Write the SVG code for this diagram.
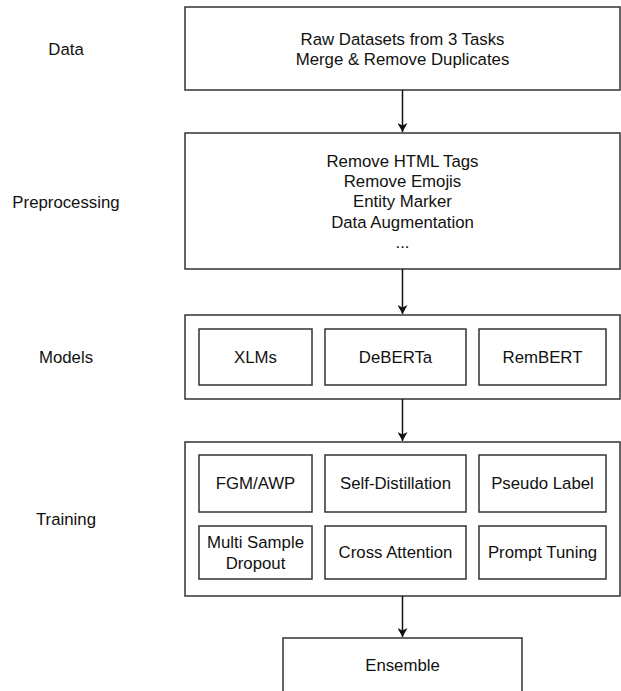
<svg xmlns="http://www.w3.org/2000/svg" width="621" height="691" viewBox="0 0 621 691">
<defs>
<style>
.box{fill:#fff;stroke:#333;stroke-width:1.5}
.t{font-family:"Liberation Sans",Arial,sans-serif;font-size:16.8px;fill:#111;text-anchor:middle}
.edge{stroke:#111;stroke-width:1.5;fill:none;marker-end:url(#ah)}
</style>
<marker id="ah" markerWidth="10" markerHeight="10" refX="9" refY="5" orient="auto" markerUnits="userSpaceOnUse">
<path d="M0,0 L9,5 L0,10 L2.5,5 Z" fill="#111"/>
</marker>
</defs>
<rect width="621" height="691" fill="#fff"/>
<g id="labels">
<text class="t" x="66" y="54.5">Data</text>
<text class="t" x="66" y="208">Preprocessing</text>
<text class="t" x="66" y="363">Models</text>
<text class="t" x="66" y="525">Training</text>
</g>
<g id="data">
<rect class="box" x="185" y="7" width="435" height="83"/>
<text class="t" x="402.5" y="45">Raw Datasets from 3 Tasks</text>
<text class="t" x="402.5" y="65">Merge &amp; Remove Duplicates</text>
</g>
<g id="preprocessing">
<rect class="box" x="185" y="133" width="435" height="136"/>
<text class="t" x="402.5" y="167">Remove HTML Tags</text>
<text class="t" x="402.5" y="187.2">Remove Emojis</text>
<text class="t" x="402.5" y="207.4">Entity Marker</text>
<text class="t" x="402.5" y="227.6">Data Augmentation</text>
<text class="t" x="402.5" y="247.8">...</text>
</g>
<g id="models">
<rect class="box" x="185" y="315" width="435" height="84"/>
<g id="xlms"><rect class="box" x="199" y="329" width="113" height="56"/><text class="t" x="255.5" y="363">XLMs</text></g>
<g id="deberta"><rect class="box" x="325" y="329" width="141" height="56"/><text class="t" x="395.5" y="363">DeBERTa</text></g>
<g id="rembert"><rect class="box" x="479" y="329" width="127" height="56"/><text class="t" x="542.5" y="363">RemBERT</text></g>
</g>
<g id="training">
<rect class="box" x="185" y="442" width="435" height="154"/>
<g id="fgm"><rect class="box" x="199" y="455" width="113" height="57"/><text class="t" x="255.5" y="489">FGM/AWP</text></g>
<g id="selfdistill"><rect class="box" x="325" y="455" width="141" height="57"/><text class="t" x="395.5" y="489">Self-Distillation</text></g>
<g id="pseudo"><rect class="box" x="479" y="455" width="127" height="57"/><text class="t" x="542.5" y="489">Pseudo Label</text></g>
<g id="msd"><rect class="box" x="199" y="526" width="113" height="53"/><text class="t" x="255.5" y="548">Multi Sample</text><text class="t" x="255.5" y="568.5">Dropout</text></g>
<g id="crossattn"><rect class="box" x="325" y="526" width="141" height="53"/><text class="t" x="395.5" y="558">Cross Attention</text></g>
<g id="prompt"><rect class="box" x="479" y="526" width="127" height="53"/><text class="t" x="542.5" y="558">Prompt Tuning</text></g>
</g>
<g id="ensemble">
<rect class="box" x="283" y="638" width="239" height="70"/>
<text class="t" x="402.5" y="671">Ensemble</text>
</g>
<g id="connectors">
<line class="edge" x1="402.5" y1="90" x2="402.5" y2="132"/>
<line class="edge" x1="402.5" y1="269" x2="402.5" y2="314"/>
<line class="edge" x1="402.5" y1="399" x2="402.5" y2="441"/>
<line class="edge" x1="402.5" y1="596" x2="402.5" y2="637"/>
</g>
</svg>
